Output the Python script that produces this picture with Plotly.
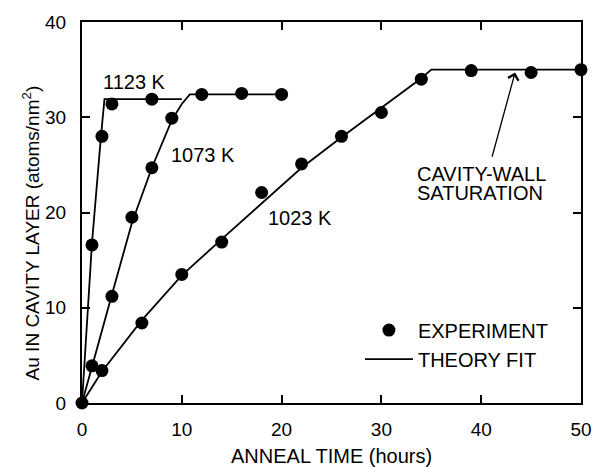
import plotly.graph_objects as go

# Measured Au uptake in the cavity layer (atoms/nm^2) vs anneal time (hours)
t_1123 = [0, 1, 2, 3, 7]
au_1123 = [0, 16.6, 28.0, 31.4, 31.9]

t_1073 = [1, 3, 5, 7, 9, 12, 16, 20]
au_1073 = [3.9, 11.2, 19.5, 24.7, 29.9, 32.4, 32.5, 32.4]

t_1023 = [2, 6, 10, 14, 18, 22, 26, 30, 34, 39, 45, 50]
au_1023 = [3.4, 8.4, 13.5, 16.9, 22.1, 25.1, 28.0, 30.5, 34.0, 34.9, 34.7, 35.0]

# Theory fit curves
fit_t_1123 = [0, 0.5, 1.0, 1.9, 2.25, 10]
fit_au_1123 = [0, 9.0, 16.8, 28.0, 31.9, 31.9]

fit_t_1073 = [0, 1, 3, 5, 7, 9, 10, 10.8, 20]
fit_au_1073 = [0, 3.9, 11.4, 18.9, 24.7, 29.7, 31.4, 32.4, 32.4]

fit_t_1023 = [0, 2, 6, 10, 14, 18, 22, 26, 30, 34, 35, 50]
fit_au_1023 = [0, 3.3, 8.7, 13.4, 17.2, 21.0, 24.7, 27.9, 31.0, 34.1, 35.0, 35.0]

FONT = "Liberation Sans, Arial, Helvetica, sans-serif"
INK = "black"

fig = go.Figure()

fits = [(fit_t_1123, fit_au_1123), (fit_t_1073, fit_au_1073), (fit_t_1023, fit_au_1023)]
for i, (ft, fa) in enumerate(fits):
    fig.add_trace(go.Scatter(
        x=ft, y=fa, mode="lines",
        line=dict(color=INK, width=1.8),
        name="THEORY FIT", legendgroup="fit", showlegend=(i == 0),
        legendrank=2,
    ))

exps = [(t_1123, au_1123), (t_1073, au_1073), (t_1023, au_1023)]
for i, (et, ea) in enumerate(exps):
    fig.add_trace(go.Scatter(
        x=et, y=ea, mode="markers",
        marker=dict(color=INK, size=13, line=dict(width=0)),
        name="EXPERIMENT", legendgroup="exp", showlegend=(i == 0),
        legendrank=1, cliponaxis=False,
    ))

label_font = dict(family=FONT, size=20, color=INK)
for txt, x, y in [("1123 K", 5.3, 33.75), ("1073 K", 12.1, 26.0), ("1023 K", 21.8, 19.45)]:
    fig.add_annotation(x=x, y=y, text=txt, showarrow=False, font=label_font)

fig.add_annotation(x=33.4, y=24.0, text="CAVITY-WALL", showarrow=False,
                   xanchor="left", font=label_font)
fig.add_annotation(x=33.4, y=22.05, text="SATURATION", showarrow=False,
                   xanchor="left", font=label_font)
fig.add_annotation(x=43.4, y=34.7, ax=41.05, ay=25.7, axref="x", ayref="y",
                   text="", showarrow=True, arrowhead=4, arrowsize=1.6,
                   arrowwidth=1.3, arrowcolor=INK)

# Axis titles
fig.add_annotation(xref="paper", yref="paper", x=0.5, y=-0.140,
                   text="ANNEAL TIME (hours)", showarrow=False,
                   xanchor="center", yanchor="middle",
                   font=dict(family=FONT, size=20, color=INK))
fig.add_annotation(xref="paper", yref="paper", x=-0.1028, y=0.447,
                   text="Au IN CAVITY LAYER (atoms/nm<sup>2</sup>)",
                   textangle=-90, showarrow=False,
                   xanchor="center", yanchor="middle",
                   font=dict(family=FONT, size=19, color=INK))

axis_common = dict(
    showline=True, linecolor=INK, linewidth=2, mirror="ticks",
    ticks="inside", ticklen=8, tickwidth=1.5, tickcolor=INK,
    showgrid=False, zeroline=False,
    tickfont=dict(family=FONT, size=19, color=INK),
)

fig.update_xaxes(range=[0, 50], dtick=10, ticklabelstandoff=8, **axis_common)
fig.update_yaxes(range=[0, 40], dtick=10, ticklabelstandoff=10, **axis_common)

fig.update_layout(
    width=604, height=467,
    margin=dict(l=82, r=21, t=22, b=64),
    paper_bgcolor="white", plot_bgcolor="white",
    font=dict(family=FONT, color=INK),
    showlegend=True,
    legend=dict(x=0.557, y=0.2426, xanchor="left", yanchor="top",
                bgcolor="rgba(0,0,0,0)", borderwidth=0,
                font=dict(family=FONT, size=20, color=INK),
                itemwidth=48, tracegroupgap=0),
)

fig.write_html("out.html")
